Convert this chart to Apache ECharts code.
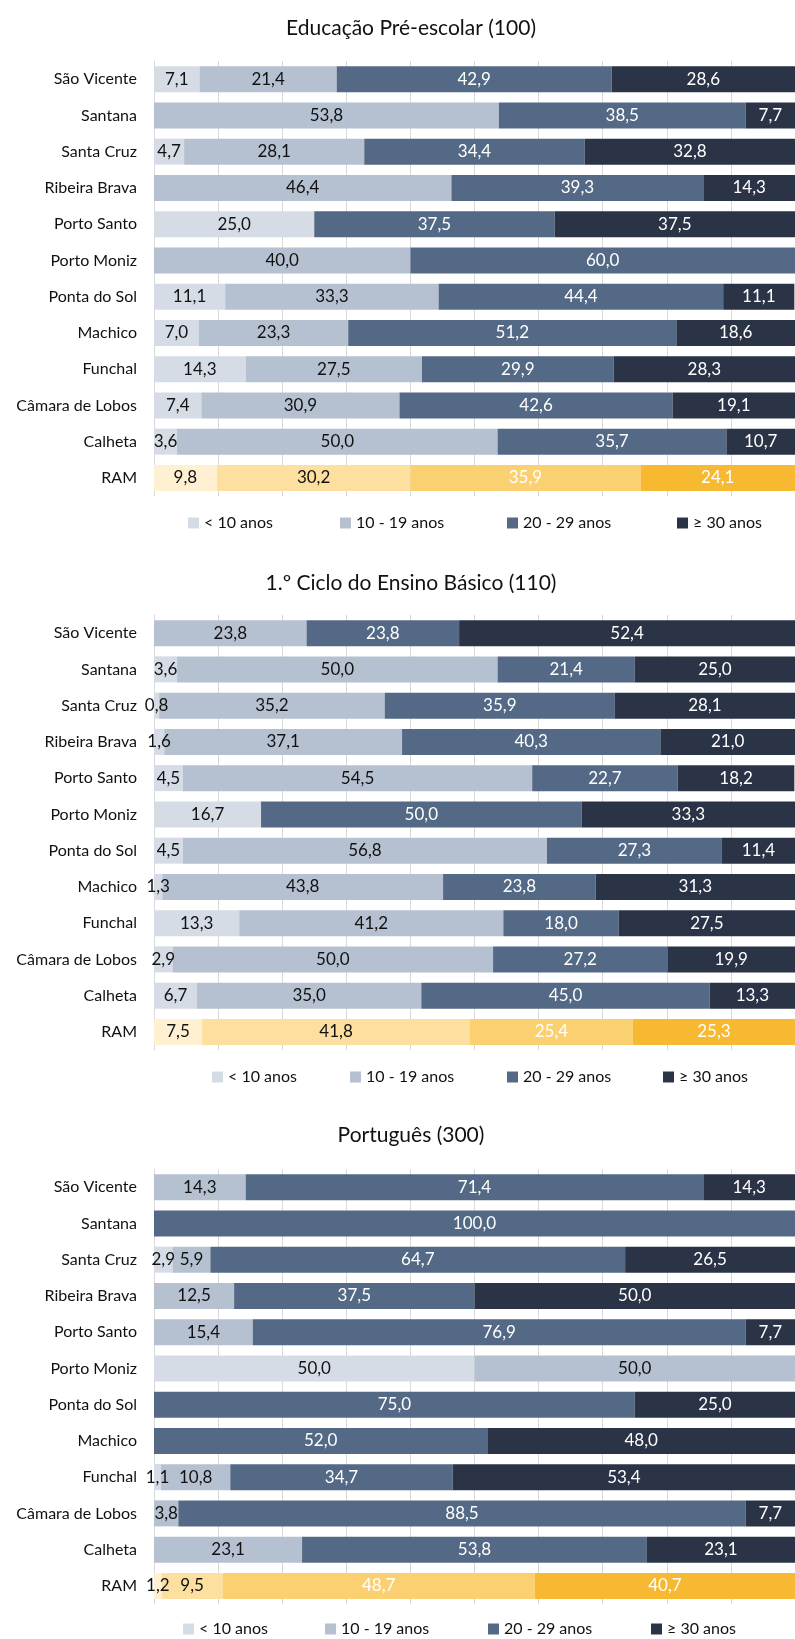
<!DOCTYPE html>
<html>
<head>
<meta charset="utf-8">
<script src="https://cdn.jsdelivr.net/npm/echarts@6/dist/echarts.min.js"></script>
<style>
  html, body { margin: 0; padding: 0; background: #fff; }
  #chart { width: 795px; height: 1639px; }
</style>
</head>
<body>
<div id="chart"></div>
<script>
// municipalities, top to bottom
const categories = ['São Vicente', 'Santana', 'Santa Cruz', 'Ribeira Brava', 'Porto Santo', 'Porto Moniz',
  'Ponta do Sol', 'Machico', 'Funchal', 'Câmara de Lobos', 'Calheta', 'RAM']
const groups = ['< 10 anos', '10 - 19 anos', '20 - 29 anos', '≥ 30 anos']
const titles = ['Educação Pré-escolar (100)', '1.º Ciclo do Ensino Básico (110)', 'Português (300)']

// one row per age group, one value per municipality (%)
const preEscolar = [
  [7.1, 0, 4.7, 0, 25.0, 0, 11.1, 7.0, 14.3, 7.4, 3.6, 9.8],
  [21.4, 53.8, 28.1, 46.4, 0, 40.0, 33.3, 23.3, 27.5, 30.9, 50.0, 30.2],
  [42.9, 38.5, 34.4, 39.3, 37.5, 60.0, 44.4, 51.2, 29.9, 42.6, 35.7, 35.9],
  [28.6, 7.7, 32.8, 14.3, 37.5, 0, 11.1, 18.6, 28.3, 19.1, 10.7, 24.1]
]
const primeiroCiclo = [
  [0, 3.6, 0.8, 1.6, 4.5, 16.7, 4.5, 1.3, 13.3, 2.9, 6.7, 7.5],
  [23.8, 50.0, 35.2, 37.1, 54.5, 0, 56.8, 43.8, 41.2, 50.0, 35.0, 41.8],
  [23.8, 21.4, 35.9, 40.3, 22.7, 50.0, 27.3, 23.8, 18.0, 27.2, 45.0, 25.4],
  [52.4, 25.0, 28.1, 21.0, 18.2, 33.3, 11.4, 31.3, 27.5, 19.9, 13.3, 25.3]
]
const portugues = [
  [0, 0, 2.9, 0, 0, 50.0, 0, 0, 1.1, 0, 0, 1.2],
  [14.3, 0, 5.9, 12.5, 15.4, 50.0, 0, 0, 10.8, 3.8, 23.1, 9.5],
  [71.4, 100.0, 64.7, 37.5, 76.9, 0, 75.0, 52.0, 34.7, 88.5, 53.8, 48.7],
  [14.3, 0, 26.5, 50.0, 7.7, 0, 25.0, 48.0, 53.4, 7.7, 23.1, 40.7]
]
const datasets = [preEscolar, primeiroCiclo, portugues]

const colors = ['#d6dce5', '#b5c1d1', '#546985', '#2a3446']
const ramColors = ['#fff0d2', '#fde09f', '#fbd070', '#f7b932']
const labelColors = ['#111111', '#111111', '#ffffff', '#ffffff']

// layout per panel
const titleY = [28, 583, 1135]
const gridTop = [61, 615, 1169]
const legendY = [524, 1078, 1630]
const legendX = [[188, 340, 507, 677], [212, 350, 507, 663], [183, 325, 488, 651]]

const font = 'Lato, "Open Sans", sans-serif'
const fmt = v => v ? v.toFixed(1).replace('.', ',') : ''

const chart = echarts.init(document.getElementById('chart'))

const grid = gridTop.map(top => ({ left: 154, right: -9, top: top, height: 435 }))
const xAxis = gridTop.map((_, i) => ({
  type: 'value', gridIndex: i, min: 0, max: 100, interval: 10,
  axisLabel: { show: false }, axisTick: { show: false }, axisLine: { show: false },
  splitLine: { lineStyle: { color: '#d9d9d9', width: 1 } }
}))
const yAxis = gridTop.map((_, i) => ({
  type: 'category', gridIndex: i, data: categories, inverse: true,
  axisTick: { show: false },
  axisLine: { lineStyle: { color: '#d9d9d9' } },
  axisLabel: { color: '#111111', fontSize: 16, fontFamily: font, margin: 17 }
}))

const series = []
datasets.forEach((rows, c) => {
  rows.forEach((vals, g) => {
    series.push({
      type: 'bar', name: groups[g], stack: 'p' + c,
      xAxisIndex: c, yAxisIndex: c, barWidth: 26,
      itemStyle: { color: colors[g] },
      label: {
        show: true, position: 'inside', color: labelColors[g],
        fontSize: 17, fontFamily: font,
        formatter: p => fmt(p.value)
      },
      emphasis: { disabled: true },
      data: vals.map((v, k) => k === categories.length - 1
        ? { value: v, itemStyle: { color: ramColors[g] } }
        : v)
    })
  })
})

const legend = []
legendX.forEach((xs, c) => {
  xs.forEach((x, g) => {
    legend.push({
      data: [groups[g]], left: x, top: legendY[c] - 9,
      itemWidth: 11, itemHeight: 11, itemGap: 0, padding: 0,
      icon: 'rect',
      itemStyle: { color: colors[g] },
      textStyle: { color: '#111111', fontSize: 16, fontFamily: font },
      selectedMode: false
    })
  })
})

const graphic = titles.map((t, c) => ({
  type: 'text', x: 411, y: titleY[c],
  style: { text: t, align: 'center', verticalAlign: 'middle', fill: '#111111',
    font: '21px ' + font }
}))

chart.setOption({
  animation: false,
  grid, xAxis, yAxis, series, legend, graphic
})
</script>
</body>
</html>
